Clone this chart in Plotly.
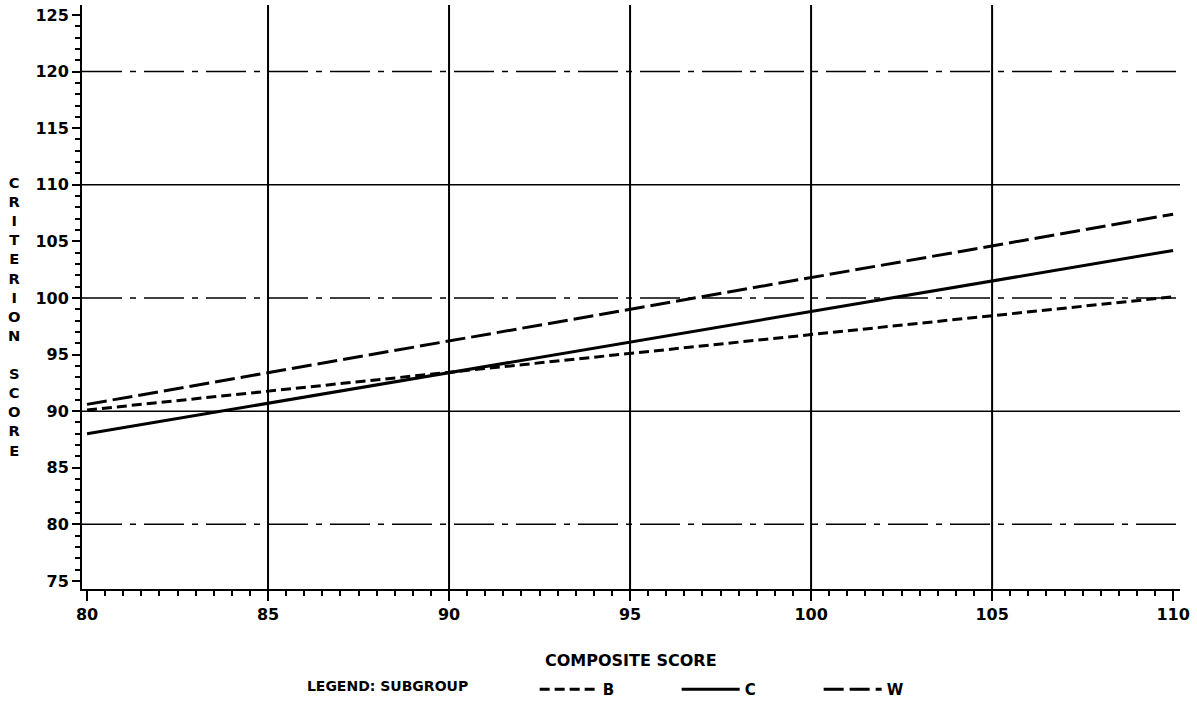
import plotly.graph_objects as go

# ---- data ----
composite = [80, 110]
crit_B = [90.1, 100.1]
crit_C = [88.0, 104.2]
crit_W = [90.6, 107.4]

x_ticks = [80, 85, 90, 95, 100, 105, 110]
y_ticks = [75, 80, 85, 90, 95, 100, 105, 110, 115, 120, 125]
vgrid = [85, 90, 95, 100, 105]
hgrid_solid = [90, 110]
hgrid_dashdot = [80, 100, 120]

FONT = "DejaVu Sans"
BLACK = "#000000"

fig = go.Figure()
fig.add_trace(go.Scatter(x=composite, y=crit_B, mode="lines", name="B",
                         line=dict(color=BLACK, width=3, dash="10px,5px")))
fig.add_trace(go.Scatter(x=composite, y=crit_C, mode="lines", name="C",
                         line=dict(color=BLACK, width=3)))
fig.add_trace(go.Scatter(x=composite, y=crit_W, mode="lines", name="W",
                         line=dict(color=BLACK, width=3, dash="20px,6px")))

shapes = []
for v in vgrid:
    shapes.append(dict(type="line", xref="x", yref="paper", x0=v, x1=v, y0=0, y1=1,
                       line=dict(color=BLACK, width=2), layer="below"))
for v in hgrid_solid:
    shapes.append(dict(type="line", xref="paper", yref="y", x0=0, x1=1, y0=v, y1=v,
                       line=dict(color=BLACK, width=1.5), layer="below"))
for v in hgrid_dashdot:
    shapes.append(dict(type="line", xref="paper", yref="y", x0=0, x1=1, y0=v, y1=v,
                       line=dict(color=BLACK, width=1.5, dash="40px,8px,6px,8px"), layer="below"))

ytitle = "<br>".join(list("CRITERION") + [" "] + list("SCORE"))
pad = "&nbsp;" * 12

fig.update_layout(
    width=1197, height=710,
    margin=dict(l=82, r=17, t=5, b=121, autoexpand=False),
    paper_bgcolor="white", plot_bgcolor="white",
    font=dict(family=FONT, color=BLACK),
    shapes=shapes,
    showlegend=True,
    legend=dict(orientation="h", x=0.203, xanchor="left", y=-0.172, yanchor="middle",
                font=dict(family=FONT, size=15, weight="bold"),
                title=dict(text="LEGEND: SUBGROUP" + pad,
                           font=dict(family=FONT, size=14, weight="bold"), side="left"),
                itemwidth=58, entrywidth=69, bgcolor="rgba(0,0,0,0)"),
    xaxis=dict(range=[79.862, 110.19], tickvals=x_ticks, ticks="outside", ticklen=10,
               tickwidth=2, tickcolor=BLACK, showline=True, linewidth=2, linecolor=BLACK,
               showgrid=False, zeroline=False, automargin=False,
               tickfont=dict(family=FONT, size=16, weight="bold"),
               minor=dict(dtick=0.5, ticks="outside", ticklen=5, tickwidth=2, tickcolor=BLACK)),
    yaxis=dict(range=[74.29, 125.88], tickvals=y_ticks, ticks="outside", ticklen=8,
               tickwidth=2, tickcolor=BLACK, showline=True, linewidth=2, linecolor=BLACK,
               showgrid=False, zeroline=False, automargin=False,
               tickfont=dict(family=FONT, size=16, weight="bold"),
               minor=dict(dtick=1, ticks="outside", ticklen=5, tickwidth=2, tickcolor=BLACK)),
    annotations=[
        dict(text="COMPOSITE SCORE", xref="paper", yref="paper", x=0.5, y=-0.1216,
             xanchor="center", yanchor="middle", showarrow=False,
             font=dict(family=FONT, size=16, weight="bold")),
        dict(text=ytitle, xref="paper", yref="paper", x=-0.0619, y=0.4666,
             xanchor="center", yanchor="middle", showarrow=False,
             font=dict(family=FONT, size=14.7, weight="bold")),
    ],
)

fig.write_html("out.html", config={"displayModeBar": False},
               post_script="document.body.style.margin='0';")
